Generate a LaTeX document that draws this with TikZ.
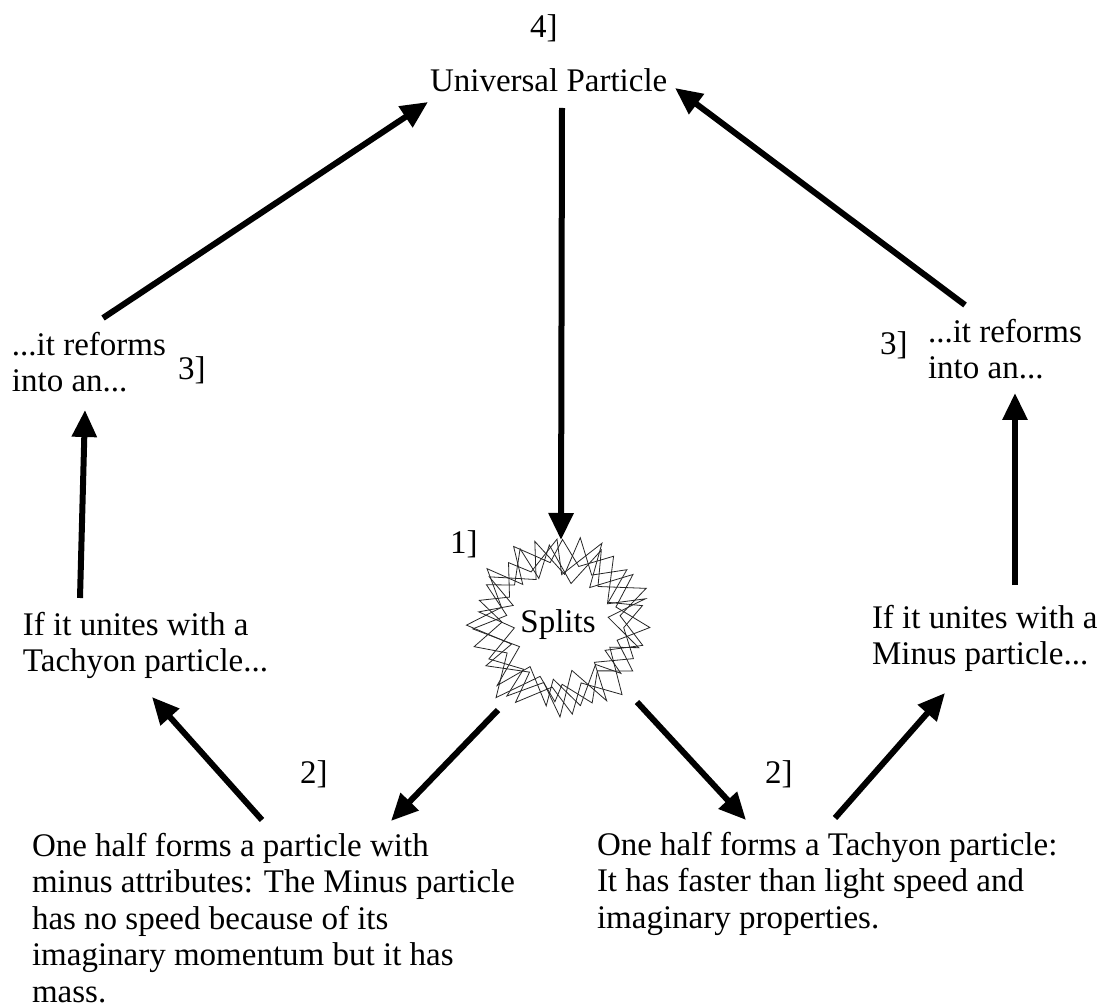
\documentclass[tikz,border=0pt]{standalone}
\usepackage{fontspec}
\setmainfont{Liberation Serif}
\usetikzlibrary{arrows.meta}
\tikzset{
  txt/.style={inner sep=0pt, outer sep=0pt, align=left, font=\fontsize{33}{36.5}\selectfont},
  bigarrow/.style={line width=6pt, -{Triangle[length=27pt,width=24pt]}, shorten >=0pt},
  burst/.style={line width=0.8pt, line join=miter, miter limit=20, draw=black!85}
}
\begin{document}
\begin{tikzpicture}[x=1pt,y=-1pt]
\fill[white] (0,0) rectangle (1104,1008);
\useasboundingbox (0,0) rectangle (1104,1008);

% labels
\node[txt, anchor=base west] (n4) at (530,38) {4]};
\node[txt, anchor=base west] (univ) at (430,92) {Universal Particle};
\node[txt, anchor=north west] (refL) at (12,332) {...it reforms\\into an...};
\node[txt, anchor=base west] (n3L) at (178,380) {3]};
\node[txt, anchor=base west] (n3R) at (880,355) {3]};
\node[txt, anchor=north west] (refR) at (928,319) {...it reforms\\into an...};
\node[txt, anchor=base west] (n1) at (450,553) {1]};
\node[txt, anchor=north west] (uniL) at (23,612) {If it unites with a\\Tachyon particle...};
\node[txt, anchor=north west] (uniR) at (872,605) {If it unites with a\\Minus particle...};
\node[txt, anchor=base west] (n2L) at (300,783) {2]};
\node[txt, anchor=base west] (n2R) at (765,783) {2]};
\node[txt, anchor=north west] (minus) at (32,833) {One half forms a particle with\\minus attributes: The Minus particle\\has no speed because of its\\imaginary momentum but it has\\mass.};
\node[txt, anchor=north west] (tach) at (597,832) {One half forms a Tachyon particle:\\It has faster than light speed and\\imaginary properties.};

% starburst
\foreach \off/\sd in {0/11, 8/23, 16/37, 24/5}{
  \pgfmathsetseed{\sd}
  \draw[burst] plot[samples at={0,...,21}]
    ({560+((mod(\x,2)==0) ? (88+9*rand) : (54+10*rand))*cos(\x*360/22+\off+7*rand)},
     {625+((mod(\x,2)==0) ? (86+9*rand) : (54+10*rand))*sin(\x*360/22+\off+7*rand)}) -- cycle;
}
\node[txt, anchor=base] (splits) at (558,632) {Splits};

% arrow end points
\coordinate (aL1) at (103,318);  \coordinate (aL2) at (428,102);
\coordinate (aR1) at (965,305);  \coordinate (aR2) at (675,88);
\coordinate (aC1) at (562,108);  \coordinate (aC2) at (561,540);
\coordinate (vL1) at (80,598);   \coordinate (vL2) at (85,410);
\coordinate (vR1) at (1015,585); \coordinate (vR2) at (1015,393);
\coordinate (sL1) at (498,710);  \coordinate (sL2) at (391,821);
\coordinate (sR1) at (637,702);  \coordinate (sR2) at (746,820);
\coordinate (bL1) at (262,820);  \coordinate (bL2) at (152,697);
\coordinate (bR1) at (835,818);  \coordinate (bR2) at (945,693);

\draw[bigarrow] (aL1) -- (aL2);
\draw[bigarrow] (aR1) -- (aR2);
\draw[bigarrow] (aC1) -- (aC2);
\draw[bigarrow] (vL1) -- (vL2);
\draw[bigarrow] (vR1) -- (vR2);
\draw[bigarrow] (sL1) -- (sL2);
\draw[bigarrow] (sR1) -- (sR2);
\draw[bigarrow] (bL1) -- (bL2);
\draw[bigarrow] (bR1) -- (bR2);
\end{tikzpicture}
\end{document}
